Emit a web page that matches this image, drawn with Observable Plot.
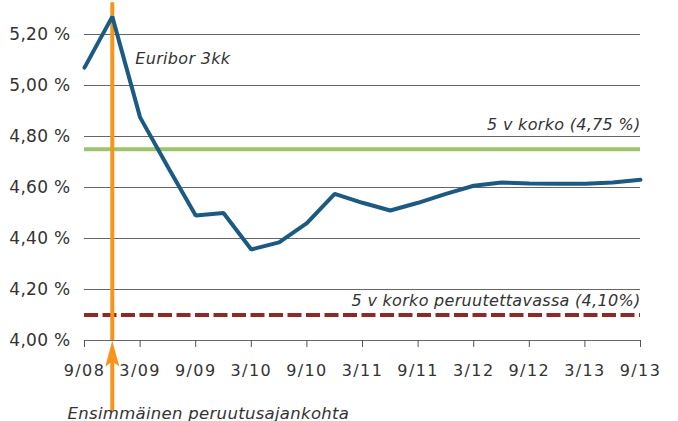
<!DOCTYPE html>
<html><head><meta charset="utf-8">
<script src="https://cdn.jsdelivr.net/npm/d3@7"></script>
<script src="https://cdn.jsdelivr.net/npm/@observablehq/plot@0.6"></script>
<style>
body{margin:0;background:#fff}
#chart svg{font-family:"DejaVu Sans",sans-serif;}
#chart [aria-label="x-axis tick label"]{letter-spacing:1.4px}
#chart [aria-label="y-axis tick label"]{letter-spacing:0.3px}
#chart .anno{letter-spacing:0.3px}
</style>
</head><body><div id="chart"></div>
<script>
// Quarterly observations, Sep 2008 – Sep 2013
const quarters = ["9/08","12/08","3/09","6/09","9/09","12/09","3/10","6/10","9/10","12/10","3/11","6/11","9/11","12/11","3/12","6/12","9/12","12/12","3/13","6/13","9/13"];
const euribor = [5.07, 5.27, 4.875, 4.68, 4.49, 4.50, 4.357, 4.385, 4.46, 4.575, 4.54, 4.51, 4.54, 4.575, 4.607, 4.62, 4.616, 4.615, 4.615, 4.62, 4.63];
const xTickLabels = ["9/08","3/09","9/09","3/10","9/10","3/11","9/11","3/12","9/12","3/13","9/13"];
const yTicks = [4.0, 4.2, 4.4, 4.6, 4.8, 5.0, 5.2];
const fixedRate = 4.75;
const callableRate = 4.10;
const firstCallLabel = "12/08";
const seriesLabel = "Euribor 3kk";
const fixedLabel = "5 v korko (4,75 %)";
const callableLabel = "5 v korko peruutettavassa (4,10%)";
const callLabel = "Ensimmäinen peruutusajankohta";

const data = quarters.map((q, i) => ({i, q, v: euribor[i]}));
const callIdx = quarters.indexOf(firstCallLabel);
const xTickIdx = xTickLabels.map(l => quarters.indexOf(l));

const arrowHead = {
  draw(ctx) {
    ctx.moveTo(0, -13);
    ctx.lineTo(7, 13);
    ctx.lineTo(0, 8);
    ctx.lineTo(-7, 13);
    ctx.closePath();
  }
};

const fmt = d => d.toFixed(2).replace(".", ",") + " %";
const annoStyle = {fontStyle: "italic", fontSize: 16, fill: "#333", className: "anno"};

const chart = Plot.plot({
  width: 678,
  height: 421,
  marginLeft: 84,
  marginRight: 38,
  marginTop: 34,
  marginBottom: 81,
  x: {domain: [0, quarters.length - 1], range: [84, 640]},
  y: {domain: [4, 5.2], range: [340, 34]},
  style: {fontFamily: "'DejaVu Sans', sans-serif", fontSize: "16px", color: "#333", overflow: "visible", background: "#fff"},
  marks: [
    Plot.gridY(yTicks, {stroke: "#666", strokeOpacity: 1}),
    Plot.axisY(yTicks, {tickSize: 0, tickPadding: 14, tickFormat: fmt, fontSize: 17, label: null}),
    Plot.axisX(xTickIdx, {tickSize: 7, tickPadding: 17, tickFormat: i => quarters[i], fontSize: 16, stroke: "#555", label: null}),
    Plot.ruleY([callableRate], {stroke: "#8e2a25", strokeWidth: 4, strokeDasharray: "14,4.5"}),
    Plot.ruleY([fixedRate], {stroke: "#9dc46b", strokeWidth: 4}),
    Plot.ruleX([callIdx], {y1: 4, y2: 5.325, stroke: "#f7941d", strokeWidth: 4}),
    Plot.ruleX([callIdx], {y1: 3.72, y2: 3.93, stroke: "#f7941d", strokeWidth: 4}),
    Plot.dot([callIdx], {x: d => d, y: 3.949, symbol: arrowHead, r: 5, fill: "#f7941d", stroke: null}),
    Plot.line(data, {x: "i", y: "v", stroke: "#1b5b83", strokeWidth: 4, strokeLinejoin: "miter"}),
    Plot.text([seriesLabel], {x: 1.83, y: 5.105, textAnchor: "start", ...annoStyle}),
    Plot.text([fixedLabel], {x: quarters.length - 1, y: fixedRate, dy: -24, textAnchor: "end", ...annoStyle}),
    Plot.text([callableLabel], {x: quarters.length - 1, y: callableRate, dy: -14, textAnchor: "end", ...annoStyle}),
    Plot.text([callLabel], {frameAnchor: "bottom-left", dx: -17, dy: 78, textAnchor: "start", ...annoStyle, fontSize: 16.5})
  ]
});
document.getElementById("chart").appendChild(chart);
</script>
</body></html>
